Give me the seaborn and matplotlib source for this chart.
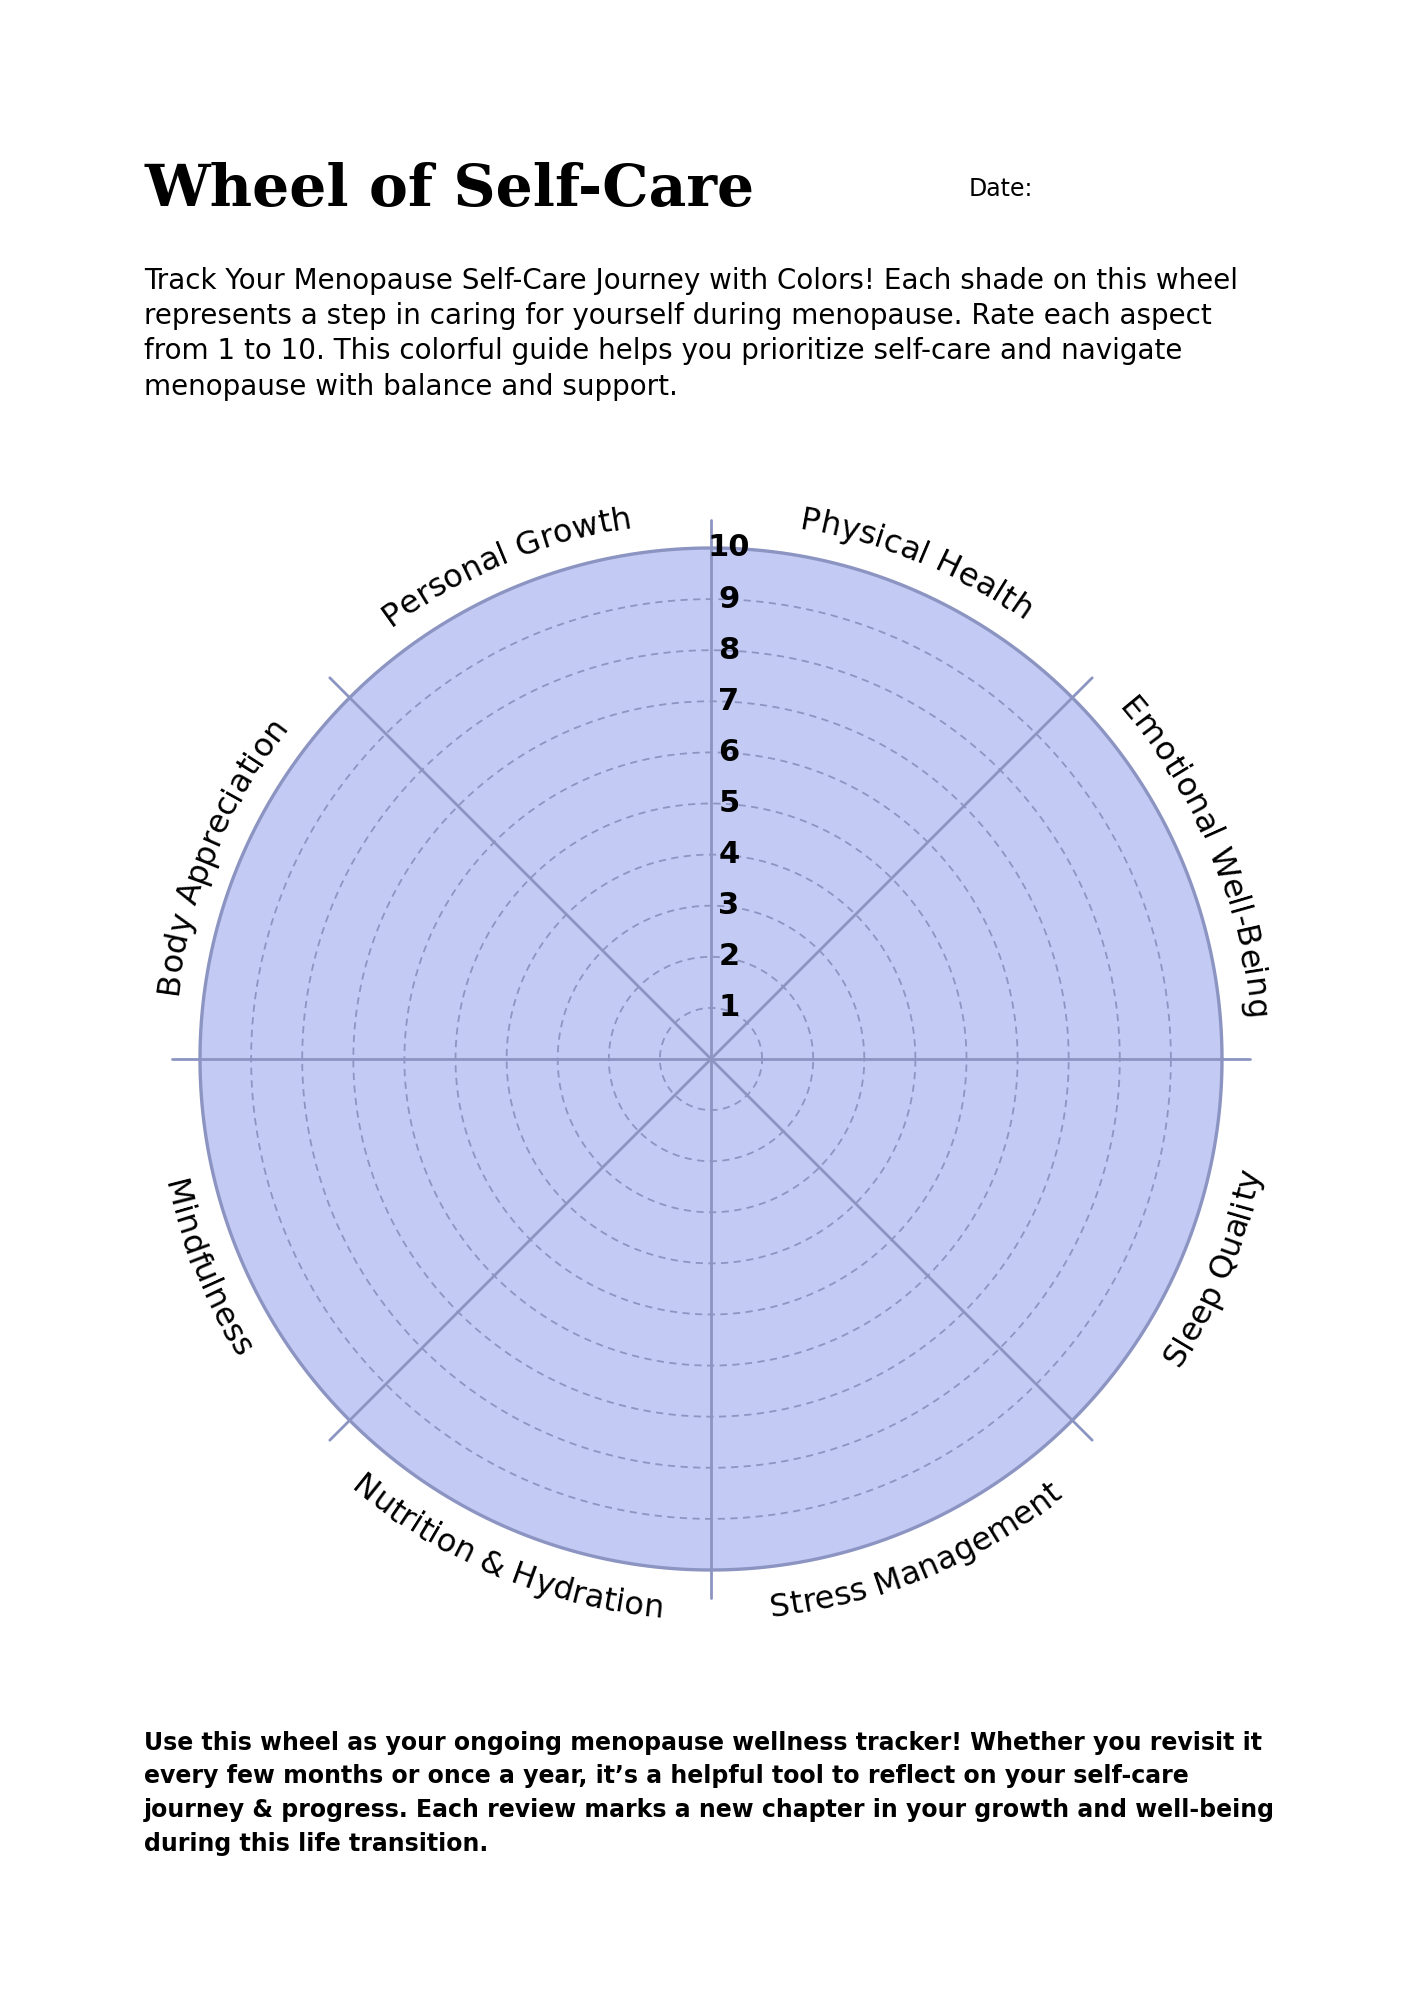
import numpy as np
import pandas as pd
import matplotlib
matplotlib.use('Agg')
import matplotlib.pyplot as plt
import matplotlib.transforms as mtransforms
from matplotlib.font_manager import FontProperties, findfont, get_font
import seaborn as sns

W, H, DPI = 1414, 2000, 100

# ---- text content ----
title = 'Wheel of Self-Care'
date_label = 'Date:'
intro_lines = [
    'Track Your Menopause Self-Care Journey with Colors! Each shade on this wheel',
    'represents a step in caring for yourself during menopause. Rate each aspect',
    'from 1 to 10. This colorful guide helps you prioritize self-care and navigate',
    'menopause with balance and support.',
]
outro_lines = [
    'Use this wheel as your ongoing menopause wellness tracker! Whether you revisit it',
    'every few months or once a year, it\u2019s a helpful tool to reflect on your self-care',
    'journey & progress. Each review marks a new chapter in your growth and well-being',
    'during this life transition.',
]

# ---- wheel data ----
categories = ['Physical Health', 'Emotional Well-Being', 'Sleep Quality', 'Stress Management',
              'Nutrition & Hydration', 'Mindfulness', 'Body Appreciation', 'Personal Growth']
category_angles = [67.5, 22.5, -22.5, -67.5, -112.5, -157.5, 157.5, 112.5]
category_on_top = [True, True, False, False, False, False, True, True]
spoke_angles = [0, 45, 90, 135, 180, 225, 270, 315]
ring_levels = [1, 2, 3, 4, 5, 6, 7, 8, 9, 10]
scale_labels = [str(v) for v in ring_levels]
max_score = 10
spoke_length = 10.55

fill_color = '#C3CAF4'
line_color = '#8C94C2'
dash_color = '#8E95C2'

sns.set_theme(style='white')
plt.rcParams['font.family'] = ['DejaVu Sans']

fig = plt.figure(figsize=(W / DPI, H / DPI), dpi=DPI)
fig.patch.set_facecolor('white')

# wheel placement (pixels, from the top-left corner)
cx, cy, r10 = 711, 1059, 511
r_max = 11.0
half = r10 * r_max / max_score
ax = fig.add_axes([(cx - half) / W, (H - cy - half) / H, 2 * half / W, 2 * half / H],
                  projection='polar')
ax.set_ylim(0, r_max)
ax.set_axis_off()
px_per_unit = r10 / max_score

theta = np.linspace(0, 2 * np.pi, 721)
ax.fill_between(theta, 0, max_score, color=fill_color, zorder=1, linewidth=0)

# dashed score rings
rings = pd.DataFrame({
    'theta': np.tile(theta, len(ring_levels) - 1),
    'r': np.repeat(ring_levels[:-1], len(theta)).astype(float),
    'ring': np.repeat(ring_levels[:-1], len(theta)),
})
sns.lineplot(data=rings, x='theta', y='r', units='ring', estimator=None, sort=False,
             color=dash_color, linewidth=1.3, dashes=False, ax=ax, zorder=2)
for line in ax.lines:
    line.set_dashes((4, 3))

# spokes
spokes = pd.DataFrame({
    'theta': np.radians(np.repeat(spoke_angles, 2)),
    'r': np.tile([0, spoke_length], len(spoke_angles)),
    'spoke': np.repeat(spoke_angles, 2),
})
sns.lineplot(data=spokes, x='theta', y='r', units='spoke', estimator=None, sort=False,
             color=line_color, linewidth=2.0, ax=ax, zorder=3)

# outer ring
ax.plot(theta, np.full_like(theta, ring_levels[-1]), color=line_color, linewidth=2.4, zorder=4)
ax.set_xlabel('')
ax.set_ylabel('')
ax.set_ylim(0, r_max)

# scale numbers
num_tr = mtransforms.offset_copy(ax.transData, fig=fig, x=18, y=0, units='dots')
for lvl, lab in zip(ring_levels, scale_labels):
    ax.text(np.pi / 2, lvl, lab, transform=num_tr, ha='center', va='center',
            fontsize=22, fontweight='bold', color='black', zorder=5)

# curved category labels
label_size = 23
fp = FontProperties(family='DejaVu Sans', size=label_size)
font = get_font(findfont(fp))
font.set_size(label_size, DPI)
cap_units = 0.729 * label_size * DPI / 72 / px_per_unit
base_top = 10.52


def arc_label(text, center_deg, top):
    adv = np.array([font.load_char(ord(c)).linearHoriAdvance / 65536 for c in text])
    pos = np.cumsum(adv) - adv / 2 - adv.sum() / 2
    r_base = base_top if top else base_top + cap_units
    r_px = r_base * px_per_unit
    for c, s in zip(text, pos):
        if top:
            ang = center_deg - np.degrees(s / r_px)
            rot = ang - 90
        else:
            ang = center_deg + np.degrees(s / r_px)
            rot = ang + 90
        ax.text(np.radians(ang), r_base, c, rotation=rot, rotation_mode='anchor',
                ha='center', va='baseline', fontproperties=fp, color='black', zorder=6)


for name, ang, top in zip(categories, category_angles, category_on_top):
    arc_label(name, ang, top)


# ---- page text ----
def page_text(x, y, s, **kw):
    fig.text(x / W, 1 - y / H, s, va='baseline', ha='left', color='black', **kw)


page_text(144, 206, title, fontsize=42, fontweight='bold', family='DejaVu Serif')
page_text(969, 196, date_label, fontsize=17)

for i, line in enumerate(intro_lines):
    page_text(144, 289 + i * 35.2, line, fontsize=20)

for i, line in enumerate(outro_lines):
    page_text(144, 1750 + i * 33.5, line, fontsize=17, fontweight='bold')

fig.savefig('out.png', dpi=DPI, facecolor='white')
